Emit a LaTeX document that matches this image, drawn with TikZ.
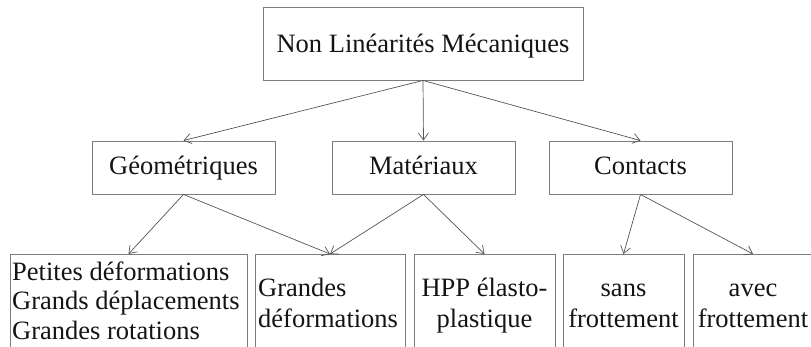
\documentclass[tikz,border=0pt]{standalone}
\usepackage{fontspec}
\setmainfont{Liberation Serif}
\usetikzlibrary{arrows.meta}
\definecolor{boxgray}{RGB}{125,125,125}
\definecolor{linegray}{RGB}{85,85,85}
\definecolor{ink}{RGB}{20,20,20}
\begin{document}
\begin{tikzpicture}[x=1pt,y=-1pt,
  box/.style={draw=boxgray, line width=0.9pt, rectangle, inner sep=0pt,
    text=ink, font=\fontsize{26.5}{30}\selectfont},
  topbox/.style={box, minimum width=320pt, minimum height=73pt, text height=19pt, text depth=0pt},
  midbox/.style={box, minimum width=183pt, minimum height=53pt, text height=15pt, text depth=0pt},
  leaf/.style={box, anchor=north, minimum height=130pt},
  lbl/.style={inner sep=0pt, text=ink, font=\fontsize{26.5}{30}\selectfont},
  link/.style={draw=linegray, line width=0.7pt, -{Straight Barb[length=7pt,width=10pt]}}]
\useasboundingbox (0,0) rectangle (811,347);
\clip (0,0) rectangle (811,347);

% root and first level
\node[topbox] (root) at (423,43.5) {Non Linéarités Mécaniques};
\node[midbox] (geo) at (183.5,167.5) {Géométriques};
\node[midbox] (mat) at (423.5,167.5) {Matériaux};
\node[midbox] (con) at (640.5,167.5) {Contacts};

% second level frames (open at the bottom edge)
\node[leaf, minimum width=237pt] (pd) at (128.5,254) {};
\node[leaf, minimum width=150pt] (gd) at (330,254) {};
\node[leaf, minimum width=141pt] (hpp) at (484.5,254) {};
\node[leaf, minimum width=121pt] (sf) at (623.5,254) {};
\node[leaf, minimum width=120pt] (af) at (753,254) {};

% second level texts
\node[lbl, anchor=base west] (pd1) at (12,280) {Petites déformations};
\node[lbl, anchor=base west] (pd2) at (12,309.5) {Grands déplacements};
\node[lbl, anchor=base west] (pd3) at (12,339) {Grandes rotations};
\node[lbl, anchor=base west] (gd1) at (258,297) {Grandes};
\node[lbl, anchor=base west] (gd2) at (258,327) {déformations};
\node[lbl, anchor=base] (hpp1) at (484.5,297) {HPP élasto-};
\node[lbl, anchor=base] (hpp2) at (484.5,327) {plastique};
\node[lbl, anchor=base] (sf1) at (623.5,297) {sans};
\node[lbl, anchor=base] (sf2) at (623.5,327) {frottement};
\node[lbl, anchor=base] (af1) at (753,297) {avec};
\node[lbl, anchor=base] (af2) at (753,327) {frottement};

% connectors
\draw[link] (root.south) -- (geo.north);
\draw[link] (root.south) -- (mat.north);
\draw[link] (root.south) -- (con.north);
\draw[link] (geo.south) -- (pd.north);
\draw[link] (geo.south) -- (gd.north);
\draw[link] (mat.south) -- (gd.north);
\draw[link] (mat.south) -- (hpp.north);
\draw[link] (con.south) -- (sf.north);
\draw[link] (con.south) -- (af.north);
\end{tikzpicture}
\end{document}
